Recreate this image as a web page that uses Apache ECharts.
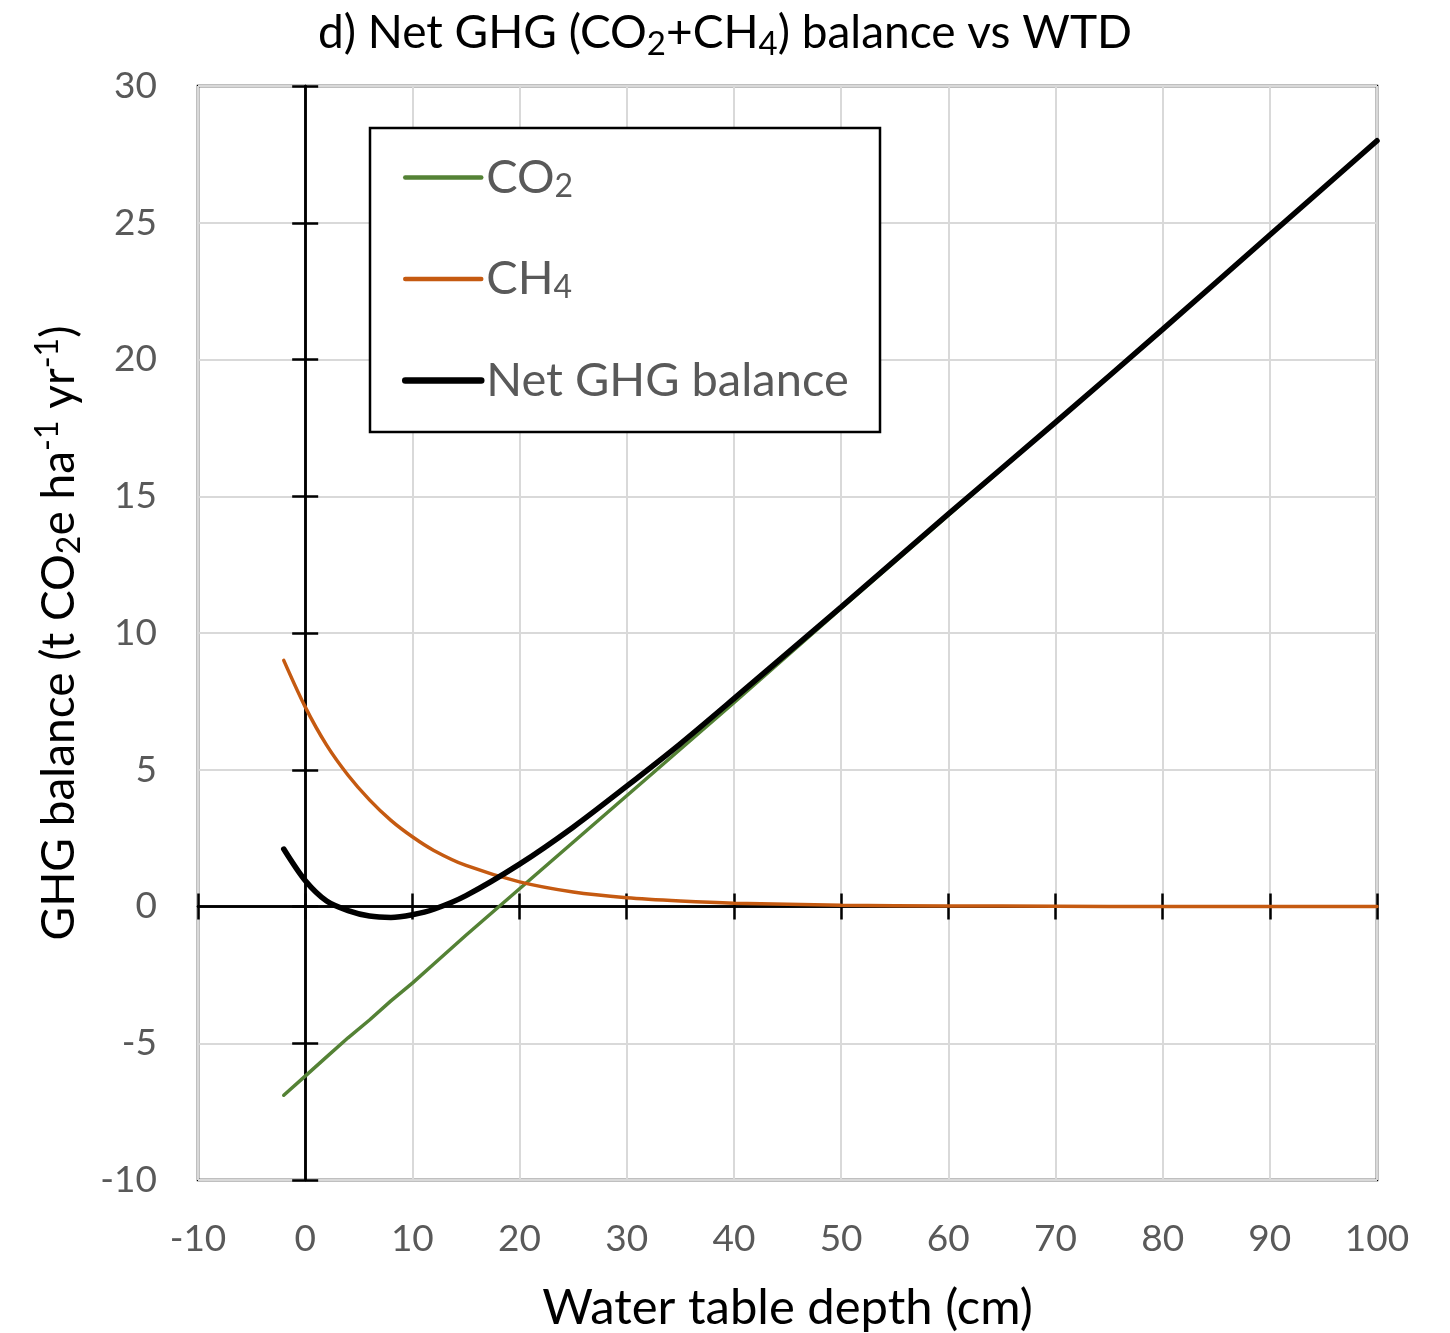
<!DOCTYPE html>
<html>
<head>
<meta charset="utf-8">
<script src="https://cdn.jsdelivr.net/npm/echarts@6/dist/echarts.min.js"></script>
<style>
  html, body { margin: 0; padding: 0; background: #fff; }
  #chart { width: 1450px; height: 1333px; }
</style>
</head>
<body>
<div id="chart"></div>
<script>
// water table depth (cm)
const wtd = [-2, 0, 2, 4, 6, 8, 10, 12, 15, 20, 25, 30, 35, 40, 50, 60, 70, 80, 90, 100];
// t CO2e ha-1 yr-1
const co2 = [-6.9, -6.2, -5.5, -4.8, -4.15, -3.45, -2.8, -2.1, -1.05, 0.65, 2.35, 4.05, 5.75, 7.45, 10.9, 14.3, 17.7, 21.1, 24.55, 28.0];
const ch4 = [9.0, 7.3, 5.9, 4.8, 3.9, 3.15, 2.55, 2.05, 1.5, 0.9, 0.53, 0.32, 0.2, 0.12, 0.05, 0.02, 0.01, 0, 0, 0];
const net = [2.1, 0.95, 0.2, -0.15, -0.35, -0.4, -0.3, -0.1, 0.4, 1.55, 2.9, 4.4, 5.95, 7.6, 10.95, 14.35, 17.7, 21.1, 24.55, 28.0];

const seriesNames = ['CO2', 'CH4', 'Net GHG balance'];
const seriesColors = ['#548235', '#c55a11', '#000000'];
const seriesWidths = [3.5, 3.5, 5.5];

const FONT = 'Lato';
const GREY = '#595959';

const chart = echarts.init(document.getElementById('chart'), null, { renderer: 'canvas' });

const pairs = (ys) => wtd.map((x, i) => [x, ys[i]]);

// black axis through zero with ticks on one side (two of them give crossing ticks)
function zeroAxis(position, extra) {
  return Object.assign({
    type: 'value',
    position,
    axisLine: { show: true, onZero: true, onZeroAxisIndex: 0, lineStyle: { color: '#000', width: 2.5 } },
    axisTick: { show: true, inside: false, length: 13, lineStyle: { color: '#000', width: 2.5 } },
    axisLabel: { show: false },
    splitLine: { show: false },
  }, extra);
}

const xRange = { min: -10, max: 100, interval: 10 };
const yRange = { min: -10, max: 30, interval: 5 };

const legendLabels = {
  'CO2': '{n|CO}{s|2}',
  'CH4': '{n|CH}{s|4}',
  'Net GHG balance': '{n|Net GHG balance}',
};

chart.setOption({
  animation: false,
  backgroundColor: '#fff',
  title: {
    text: '{t|d) Net GHG (CO}{sub|2}{t|+CH}{sub|4}{t|) balance vs WTD}',
    left: 'center',
    top: 0,
    textStyle: {
      rich: {
        t: { fontFamily: FONT, fontSize: 46, fontWeight: 'normal', color: '#000', lineHeight: 56 },
        sub: { fontFamily: FONT, fontSize: 33, fontWeight: 'normal', color: '#000', lineHeight: 30, verticalAlign: 'bottom' },
      },
    },
  },
  grid: {
    left: 198, right: 73, top: 86, bottom: 153,
    containLabel: false,
    outerBoundsMode: 'none',
    show: true, borderColor: '#000', borderWidth: 2.5, backgroundColor: 'transparent',
  },
  legend: {
    orient: 'vertical',
    left: 402,
    top: 154,
    padding: 0,
    itemWidth: 76,
    itemHeight: 14,
    itemGap: 53,
    itemStyle: { opacity: 0 },
    data: seriesNames.map((name, i) => ({
      name,
      lineStyle: { color: seriesColors[i], width: seriesWidths[i] + 1, cap: 'round' },
    })),
    formatter: (name) => legendLabels[name],
    textStyle: {
      rich: {
        n: { fontFamily: FONT, fontSize: 47, color: GREY, lineHeight: 50 },
        s: { fontFamily: FONT, fontSize: 32, color: GREY, lineHeight: 40, verticalAlign: 'bottom' },
      },
    },
  },
  graphic: [{
    type: 'rect',
    shape: { x: 370, y: 128, width: 510, height: 304 },
    style: { fill: '#fff', stroke: '#000', lineWidth: 2.5 },
    z: 3,
  }],
  xAxis: [
    Object.assign({
      type: 'value',
      position: 'bottom',
      axisLine: { show: false, onZero: false },
      axisTick: { show: false },
      axisLabel: { show: true, margin: 41, fontFamily: FONT, fontSize: 37, color: GREY },
      splitLine: { show: true, lineStyle: { color: '#d9d9d9', width: 2 } },
      name: 'Water table depth (cm)',
      nameLocation: 'middle',
      nameGap: 104,
      nameTextStyle: { fontFamily: FONT, fontSize: 49, color: '#000' },
    }, xRange),
    zeroAxis('bottom', xRange),
    zeroAxis('top', xRange),
  ],
  yAxis: [
    Object.assign({
      type: 'value',
      position: 'left',
      axisLine: { show: false, onZero: false },
      axisTick: { show: false },
      axisLabel: { show: true, margin: 41, fontFamily: FONT, fontSize: 37, color: GREY },
      splitLine: { show: true, lineStyle: { color: '#d9d9d9', width: 2 } },
      name: '{n|GHG balance (t CO}{sub|2}{n|e ha}{sup|-1}{n| yr}{sup|-1}{n|)}',
      nameLocation: 'middle',
      nameGap: 112,
      nameRotate: 90,
      nameTextStyle: {
        rich: {
          n: { fontFamily: FONT, fontSize: 46, color: '#000', lineHeight: 54 },
          sub: { fontFamily: FONT, fontSize: 32, color: '#000', lineHeight: 30, verticalAlign: 'bottom' },
          sup: { fontFamily: FONT, fontSize: 32, color: '#000', lineHeight: 30, verticalAlign: 'top' },
        },
      },
    }, yRange),
    zeroAxis('left', yRange),
    zeroAxis('right', yRange),
  ],
  series: [co2, ch4, net].map((ys, i) => ({
    name: seriesNames[i],
    type: 'line',
    xAxisIndex: 0,
    yAxisIndex: 0,
    data: pairs(ys),
    smooth: i === 0 ? false : 0.3,
    showSymbol: false,
    symbol: 'none',
    color: seriesColors[i],
    lineStyle: { color: seriesColors[i], width: seriesWidths[i], cap: 'round' },
    z: 4 + i,
  })),
});
</script>
</body>
</html>
